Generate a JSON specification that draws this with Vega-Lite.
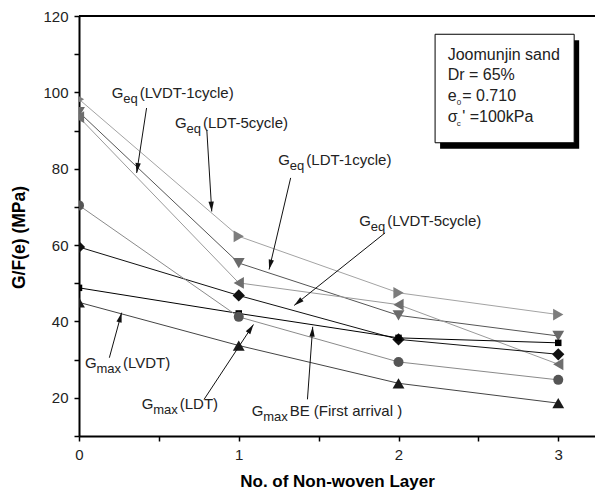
{
  "$schema": "https://vega.github.io/schema/vega-lite/v6.json",
  "width": 516,
  "height": 420,
  "autosize": {"type": "none"},
  "padding": {"left": 79, "top": 16, "right": 0, "bottom": 63},
  "background": "white",
  "config": {"view": {"stroke": null}, "font": "Liberation Sans"},
  "resolve": {"axis": {"y": "independent"}},
  "datasets": {
    "moduli": [
      {"series": "Geq LDT-5cycle", "layers": 0, "G": 98.2},
      {"series": "Geq LDT-5cycle", "layers": 1, "G": 62.3},
      {"series": "Geq LDT-5cycle", "layers": 2, "G": 47.5},
      {"series": "Geq LDT-5cycle", "layers": 3, "G": 41.8},
      {"series": "Geq LDT-1cycle", "layers": 0, "G": 94.8},
      {"series": "Geq LDT-1cycle", "layers": 1, "G": 55.3},
      {"series": "Geq LDT-1cycle", "layers": 2, "G": 41.6},
      {"series": "Geq LDT-1cycle", "layers": 3, "G": 36.2},
      {"series": "Geq LVDT-1cycle", "layers": 0, "G": 93.5},
      {"series": "Geq LVDT-1cycle", "layers": 1, "G": 50.1},
      {"series": "Geq LVDT-1cycle", "layers": 2, "G": 44.4},
      {"series": "Geq LVDT-1cycle", "layers": 3, "G": 28.8},
      {"series": "Geq LVDT-5cycle", "layers": 0, "G": 59.5},
      {"series": "Geq LVDT-5cycle", "layers": 1, "G": 46.8},
      {"series": "Geq LVDT-5cycle", "layers": 2, "G": 35.3},
      {"series": "Geq LVDT-5cycle", "layers": 3, "G": 31.4},
      {"series": "Gmax BE", "layers": 0, "G": 48.8},
      {"series": "Gmax BE", "layers": 1, "G": 42.1},
      {"series": "Gmax BE", "layers": 2, "G": 35.7},
      {"series": "Gmax BE", "layers": 3, "G": 34.4},
      {"series": "Gmax LDT", "layers": 0, "G": 70.4},
      {"series": "Gmax LDT", "layers": 1, "G": 41.2},
      {"series": "Gmax LDT", "layers": 2, "G": 29.4},
      {"series": "Gmax LDT", "layers": 3, "G": 24.7},
      {"series": "Gmax LVDT", "layers": 0, "G": 45.0},
      {"series": "Gmax LVDT", "layers": 1, "G": 33.7},
      {"series": "Gmax LVDT", "layers": 2, "G": 23.8},
      {"series": "Gmax LVDT", "layers": 3, "G": 18.6}
    ],
    "callouts": [
      {"kind": "eq", "sub": "eq", "rest": "(LVDT-1cycle)", "lx": 0.205, "ly": 98.48, "sx": 0.423, "sy": 95.9, "tx": 0.361, "ty": 78.9},
      {"kind": "eq", "sub": "eq", "rest": "(LDT-5cycle)", "lx": 0.601, "ly": 90.64, "sx": 0.800, "sy": 90.2, "tx": 0.831, "ty": 68.8},
      {"kind": "eq", "sub": "eq", "rest": "(LDT-1cycle)", "lx": 1.248, "ly": 81.05, "sx": 1.325, "sy": 77.6, "tx": 1.190, "ty": 53.6},
      {"kind": "eq", "sub": "eq", "rest": "(LVDT-5cycle)", "lx": 1.755, "ly": 64.92, "sx": 1.916, "sy": 63.2, "tx": 1.347, "ty": 44.2},
      {"kind": "max", "sub": "max", "rest": "(LVDT)", "lx": 0.0376, "ly": 27.9, "sx": 0.190, "sy": 30.5, "tx": 0.267, "ty": 42.3},
      {"kind": "max", "sub": "max", "rest": "(LDT)", "lx": 0.393, "ly": 17.0, "sx": 0.783, "sy": 19.6, "tx": 1.092, "ty": 39.2},
      {"kind": "max", "sub": "max", "rest": "BE (First arrival )", "lx": 1.081, "ly": 15.24, "sx": 1.430, "sy": 19.6, "tx": 1.463, "ty": 38.6}
    ],
    "conditions": [
      {"main": "Joomunjin sand", "sub": "", "rest": "", "x": 2.308, "y": 108.5},
      {"main": "Dr = 65%", "sub": "", "rest": "", "x": 2.308, "y": 103.14},
      {"main": "e", "sub": "0", "rest": "= 0.710", "x": 2.308, "y": 97.78},
      {"main": "σ", "sub": "c", "rest": "' =100kPa", "x": 2.308, "y": 92.29}
    ],
    "box": [
      {"x1": 2.229, "x2": 3.0996, "y1": 115.22, "y2": 86.8}
    ],
    "frame": [
      {"top": 120}
    ]
  },
  "layer": [
    {
      "data": {"name": "moduli"},
      "mark": {"type": "line", "strokeWidth": 1, "clip": true},
      "encoding": {
        "x": {
          "field": "layers",
          "type": "quantitative",
          "scale": {"domain": [0, 3.23], "nice": false, "zero": false},
          "axis": {
            "title": "No. of Non-woven Layer",
            "values": [0, 0.5, 1, 1.5, 2, 2.5, 3],
            "labelExpr": "datum.value % 1 === 0 ? format(datum.value, 'd') : ''",
            "grid": false,
            "domainColor": "black",
            "domainWidth": 2,
            "tickColor": "black",
            "tickWidth": 1.5,
            "tickSize": 5,
            "labelFont": "Liberation Sans",
            "labelFontSize": 15,
            "labelColor": "#222",
            "labelPadding": 6,
            "labelFlush": false,
            "labelOverlap": false,
            "titleFont": "Liberation Sans",
            "titleFontSize": 17,
            "titleFontWeight": "bold",
            "titleColor": "black",
            "titleY": 50,
            "titleBaseline": "alphabetic"
          }
        },
        "y": {
          "field": "G",
          "type": "quantitative",
          "scale": {"domain": [10, 120], "nice": false, "zero": false},
          "axis": {
            "orient": "left",
            "title": "G/F(e) (MPa)",
            "values": [20, 40, 60, 80, 100, 120],
            "format": "d",
            "grid": false,
            "domainColor": "black",
            "domainWidth": 2,
            "tickColor": "black",
            "tickWidth": 1.5,
            "tickSize": 5,
            "labelFont": "Liberation Sans",
            "labelFontSize": 15,
            "labelColor": "#222",
            "labelPadding": 6,
            "labelFlush": false,
            "labelOverlap": false,
            "titleFont": "Liberation Sans",
            "titleFontSize": 17.5,
            "titleFontWeight": "bold",
            "titleColor": "black",
            "titleAngle": 270,
            "titleAlign": "center",
            "titleBaseline": "alphabetic",
            "titleX": -55,
            "titleY": 221
          }
        },
        "color": {
          "field": "series",
          "type": "nominal",
          "scale": {
            "domain": ["Geq LDT-5cycle", "Geq LDT-1cycle", "Geq LVDT-1cycle", "Geq LVDT-5cycle", "Gmax BE", "Gmax LDT", "Gmax LVDT"],
            "range": ["#a3a3a3", "#555555", "#9a9a9a", "#111111", "#000000", "#8a8a8a", "#444444"]
          },
          "legend": null
        },
        "order": {"field": "layers"}
      }
    },
    {
      "data": {"name": "frame"},
      "mark": {"type": "rule", "strokeWidth": 2, "color": "black"},
      "encoding": {
        "y": {
          "field": "top",
          "type": "quantitative",
          "axis": {
            "orient": "left",
            "title": null,
            "values": [10, 30, 50, 70, 90, 110],
            "labels": false,
            "domain": false,
            "grid": false,
            "tickColor": "black",
            "tickWidth": 1.5,
            "tickSize": 5
          }
        }
      }
    },
    {
      "data": {"name": "moduli"},
      "mark": {"type": "point", "filled": true, "opacity": 1, "strokeWidth": 0, "clip": true},
      "encoding": {
        "x": {"field": "layers", "type": "quantitative"},
        "y": {"field": "G", "type": "quantitative", "axis": null},
        "shape": {
          "field": "series",
          "type": "nominal",
          "scale": {
            "domain": ["Geq LDT-5cycle", "Geq LDT-1cycle", "Geq LVDT-1cycle", "Geq LVDT-5cycle", "Gmax BE", "Gmax LDT", "Gmax LVDT"],
            "range": ["triangle-right", "triangle-down", "triangle-left", "diamond", "square", "circle", "triangle-up"]
          },
          "legend": null
        },
        "size": {
          "field": "series",
          "type": "nominal",
          "scale": {
            "type": "ordinal",
            "domain": ["Geq LDT-5cycle", "Geq LDT-1cycle", "Geq LVDT-1cycle", "Geq LVDT-5cycle", "Gmax BE", "Gmax LDT", "Gmax LVDT"],
            "range": [140, 140, 140, 150, 42, 100, 140]
          },
          "legend": null
        },
        "fill": {
          "field": "series",
          "type": "nominal",
          "scale": {
            "domain": ["Geq LDT-5cycle", "Geq LDT-1cycle", "Geq LVDT-1cycle", "Geq LVDT-5cycle", "Gmax BE", "Gmax LDT", "Gmax LVDT"],
            "range": ["#7d7d7d", "#6a6a6a", "#6e6e6e", "#111111", "#000000", "#555555", "#1a1a1a"]
          },
          "legend": null
        }
      }
    },
    {
      "data": {"name": "callouts"},
      "mark": {"type": "rule", "strokeWidth": 1, "color": "#111"},
      "encoding": {
        "x": {"field": "sx", "type": "quantitative"},
        "y": {"field": "sy", "type": "quantitative", "axis": null},
        "x2": {"field": "tx"},
        "y2": {"field": "ty"}
      }
    },
    {
      "data": {"name": "callouts"},
      "transform": [
        {"calculate": "atan2((datum.tx - datum.sx) * 159.75, (datum.ty - datum.sy) * 3.8235) * 180 / PI", "as": "headAngle"}
      ],
      "mark": {"type": "point", "shape": "M0,0L-0.6,2.2L0.6,2.2Z", "filled": true, "color": "#111", "size": 80, "opacity": 1, "strokeWidth": 0},
      "encoding": {
        "x": {"field": "tx", "type": "quantitative"},
        "y": {"field": "ty", "type": "quantitative", "axis": null},
        "angle": {"field": "headAngle", "type": "quantitative", "scale": null}
      }
    },
    {
      "data": {"name": "callouts"},
      "mark": {"type": "text", "text": "G", "align": "left", "baseline": "alphabetic", "fontSize": 15, "color": "#222"},
      "encoding": {
        "x": {"field": "lx", "type": "quantitative"},
        "y": {"field": "ly", "type": "quantitative", "axis": null}
      }
    },
    {
      "data": {"name": "callouts"},
      "mark": {"type": "text", "align": "left", "baseline": "alphabetic", "fontSize": 13, "dx": 11.5, "dy": 5, "color": "#222"},
      "encoding": {
        "x": {"field": "lx", "type": "quantitative"},
        "y": {"field": "ly", "type": "quantitative", "axis": null},
        "text": {"field": "sub"}
      }
    },
    {
      "data": {"name": "callouts"},
      "transform": [{"filter": "datum.kind === 'eq'"}],
      "mark": {"type": "text", "align": "left", "baseline": "alphabetic", "fontSize": 15, "dx": 28, "color": "#222"},
      "encoding": {
        "x": {"field": "lx", "type": "quantitative"},
        "y": {"field": "ly", "type": "quantitative", "axis": null},
        "text": {"field": "rest"}
      }
    },
    {
      "data": {"name": "callouts"},
      "transform": [{"filter": "datum.kind === 'max'"}],
      "mark": {"type": "text", "align": "left", "baseline": "alphabetic", "fontSize": 15, "dx": 38, "color": "#222"},
      "encoding": {
        "x": {"field": "lx", "type": "quantitative"},
        "y": {"field": "ly", "type": "quantitative", "axis": null},
        "text": {"field": "rest"}
      }
    },
    {
      "data": {"name": "box"},
      "mark": {"type": "rect", "fill": "black", "xOffset": 5, "x2Offset": 5, "yOffset": 6, "y2Offset": 6},
      "encoding": {
        "x": {"field": "x1", "type": "quantitative"},
        "x2": {"field": "x2"},
        "y": {"field": "y1", "type": "quantitative", "axis": null},
        "y2": {"field": "y2"}
      }
    },
    {
      "data": {"name": "box"},
      "mark": {"type": "rect", "fill": "white", "stroke": "black", "strokeWidth": 1},
      "encoding": {
        "x": {"field": "x1", "type": "quantitative"},
        "x2": {"field": "x2"},
        "y": {"field": "y1", "type": "quantitative", "axis": null},
        "y2": {"field": "y2"}
      }
    },
    {
      "data": {"name": "conditions"},
      "mark": {"type": "text", "align": "left", "baseline": "alphabetic", "fontSize": 16, "color": "#222"},
      "encoding": {
        "x": {"field": "x", "type": "quantitative"},
        "y": {"field": "y", "type": "quantitative", "axis": null},
        "text": {"field": "main"}
      }
    },
    {
      "data": {"name": "conditions"},
      "mark": {"type": "text", "align": "left", "baseline": "alphabetic", "fontSize": 8, "dx": 9, "dy": 4, "color": "#222"},
      "encoding": {
        "x": {"field": "x", "type": "quantitative"},
        "y": {"field": "y", "type": "quantitative", "axis": null},
        "text": {"field": "sub"}
      }
    },
    {
      "data": {"name": "conditions"},
      "mark": {"type": "text", "align": "left", "baseline": "alphabetic", "fontSize": 16, "dx": 14.5, "color": "#222"},
      "encoding": {
        "x": {"field": "x", "type": "quantitative"},
        "y": {"field": "y", "type": "quantitative", "axis": null},
        "text": {"field": "rest"}
      }
    }
  ]
}
